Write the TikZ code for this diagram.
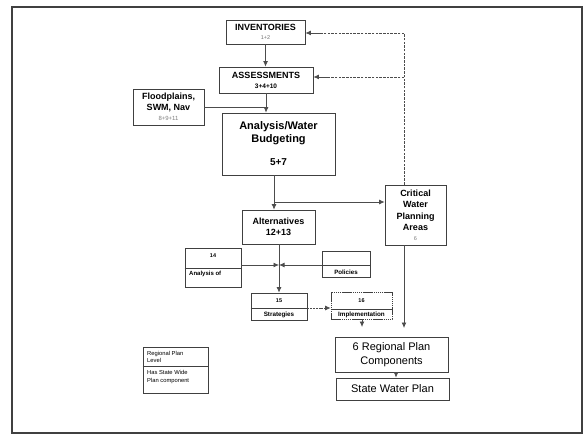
\documentclass[tikz,border=0pt]{standalone}
\usepackage{fontspec}
\setmainfont{Liberation Sans}
\usetikzlibrary{arrows.meta}
\newcommand{\fs}[2]{\fontsize{#1}{#2}\selectfont}
\begin{document}
\begin{tikzpicture}[x=1pt,y=-1pt,
  frame/.style={draw=black!75, line width=1.4pt},
  box/.style={draw=black!75, line width=0.7pt, fill=white, inner sep=1pt, align=center},
  lbl/.style={inner sep=0pt, align=center},
  leg/.style={inner sep=0pt, align=left},
  divl/.style={draw=black!75, line width=0.7pt},
  arr/.style={draw=black!70, line width=0.7pt, -{Latex[length=5.5pt,width=4.8pt]}},
  ln/.style={draw=black!70, line width=0.7pt},
  dsh/.style={draw=black!70, line width=0.7pt, dash pattern=on 2.5pt off 1.2pt}
]
\useasboundingbox (0,0) rectangle (583,435);
\draw[frame] (12,7) rectangle (582,433);

% main boxes
\node[box, minimum width=79pt, minimum height=24pt, font=\fs{9}{10}\bfseries] (inv) at (265.5,32)
  {INVENTORIES\\[-1pt]{\fs{5.5}{6}\mdseries\color{black!55}1+2}};
\node[box, minimum width=94pt, minimum height=26pt, font=\fs{9}{10}\bfseries] (ass) at (266,80)
  {ASSESSMENTS\\[0pt]{\fs{6.5}{7}3+4+10}};
\node[box, minimum width=71pt, minimum height=36pt, font=\fs{9}{10.5}\bfseries] (flood) at (168.5,107)
  {Floodplains,\\SWM, Nav\\{\fs{6}{7}\mdseries\color{black!50}8+9+11}};
\node[box, minimum width=113pt, minimum height=62pt, font=\fs{11}{13}\bfseries] (ana) at (278.5,144)
  {Analysis/Water\\Budgeting\\[10pt]{\fs{10}{12}5+7}};
\node[box, minimum width=73pt, minimum height=34pt, font=\fs{9}{11}\bfseries] (alt) at (278.5,227)
  {Alternatives\\12+13};
\node[box, minimum width=61pt, minimum height=60pt, font=\fs{9}{11.5}\bfseries] (crit) at (415.5,215)
  {Critical\\Water\\Planning\\Areas\\[-2pt]{\fs{5.5}{6}\mdseries\color{black!50}6}};

% two-part boxes
\node[box, minimum width=56pt, minimum height=39pt] (b14) at (213,267.5) {};
\draw[divl] (b14.west |- 0,268) -- (b14.east |- 0,268);
\node[lbl, font=\fs{5.5}{6}\bfseries] (t14) at (213,256) {14};
\node[lbl, anchor=west, font=\fs{6}{7}\bfseries] (a14) at (189,274) {Analysis of};

\node[box, minimum width=48pt, minimum height=26pt] (pol) at (346,264) {};
\draw[divl] (pol.west |- 0,265) -- (pol.east |- 0,265);
\node[lbl, font=\fs{6.2}{7}\bfseries] (tpol) at (346,272) {Policies};

\node[box, minimum width=56pt, minimum height=27pt] (b15) at (279,306.5) {};
\draw[divl] (b15.west |- 0,308) -- (b15.east |- 0,308);
\node[lbl, font=\fs{5.5}{6}\bfseries] (t15) at (279,301) {15};
\node[lbl, font=\fs{6.3}{7}\bfseries] (s15) at (279,314.5) {Strategies};

\node[box, dash pattern=on 1.5pt off 0.6pt, minimum width=61pt, minimum height=27pt] (b16) at (361.5,305.5) {};
\draw[divl] (b16.west |- 0,309) -- (b16.east |- 0,309);
\node[lbl, font=\fs{5.5}{6}\bfseries] (t16) at (361.5,301) {16};
\node[lbl, font=\fs{6.3}{7}\bfseries] (s16) at (361.5,314.5) {Implementation};

\node[box, minimum width=113pt, minimum height=35pt, font=\fs{11}{13.5}] (reg) at (391.5,354.5)
  {6 Regional Plan\\Components};
\node[box, minimum width=113pt, minimum height=22pt, font=\fs{11}{13}] (swp) at (392.5,389)
  {State Water Plan};

% legend
\node[box, minimum width=65pt, minimum height=46pt] (lg) at (175.5,370) {};
\draw[divl] (lg.west |- 0,366) -- (lg.east |- 0,366);
\node[leg, anchor=west, font=\fs{5.8}{7.5}] (lg1) at (147,357) {Regional Plan\\Level};
\node[leg, anchor=west, font=\fs{5.8}{7.5}] (lg2) at (147,377) {Has State Wide\\Plan component};

% connectors
\coordinate (dtop) at (404,33);
\coordinate (dmid) at (404,77);
\draw[dsh] (crit.north -| dtop) -- (dtop);
\draw[dsh] (dtop) -- ([xshift=16pt]inv.east |- dtop);
\draw[arr] ([xshift=18pt]inv.east |- dtop) -- (inv.east |- dtop);
\draw[dsh] (dmid) -- ([xshift=14pt]ass.east |- dmid);
\draw[arr] ([xshift=16pt]ass.east |- dmid) -- (ass.east |- dmid);

\draw[arr] (inv.south) -- (inv.south |- ass.north);
\coordinate (jf) at (266,107);
\draw[ln] (flood.east) -- (jf);
\draw[arr] (ass.south) -- (ass.south |- ana.north);

\coordinate (j1) at (274,202);
\draw[arr] (ana.south -| j1) -- (alt.north -| j1);
\draw[arr] (j1) -- (crit.west |- j1);

\coordinate (j2) at (279,265);
\draw[arr] (alt.south -| j2) -- (b15.north -| j2);
\draw[arr] (b14.east |- j2) -- (j2);
\draw[arr] (pol.west |- j2) -- (j2);

\coordinate (j3) at (0,308);
\draw[arr, dash pattern=on 2pt off 0.8pt] (b15.east |- j3) -- (b16.west |- j3);

\coordinate (a16) at (362,327);
\draw[arr] (b16.south -| a16) -- (a16);
\coordinate (acr) at (404,328);
\draw[arr] (crit.south -| acr) -- (acr);
\coordinate (x396) at (396,0);
\draw[arr] (reg.south -| x396) -- (swp.north -| x396);
\end{tikzpicture}
\end{document}
